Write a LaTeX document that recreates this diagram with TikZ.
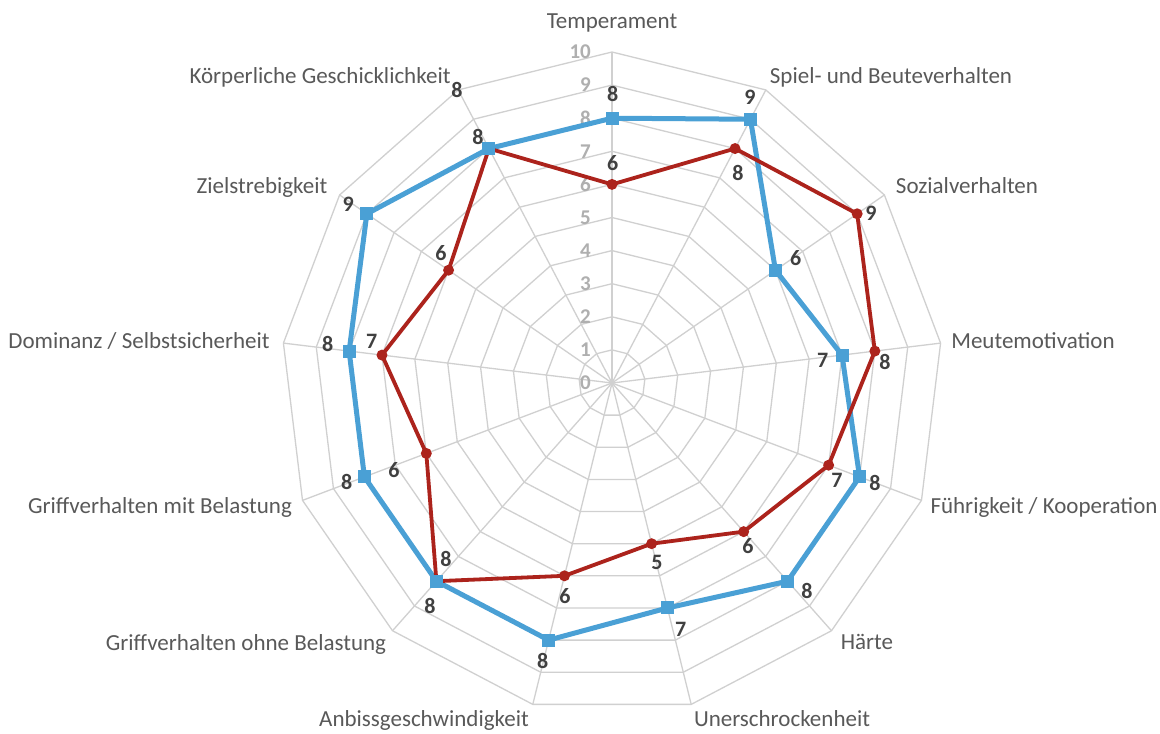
\documentclass[tikz,border=0pt]{standalone}
\usepackage{fontspec}
\setmainfont{Carlito}
\definecolor{gridc}{RGB}{208,208,208}
\definecolor{bluec}{RGB}{74,160,213}
\definecolor{redc}{RGB}{172,35,28}
\definecolor{axtxt}{RGB}{89,89,89}
\definecolor{valtxt}{RGB}{64,64,64}
\definecolor{ticktxt}{RGB}{175,175,175}
\begin{document}
\begin{tikzpicture}[x=1pt,y=-1pt,
 gridline/.style={draw=gridc,line width=1.3pt},
 axlabel/.style={anchor=base,font=\fontsize{23}{23}\selectfont,text=axtxt,inner sep=0pt},
 vallabel/.style={font=\fontsize{22}{22}\selectfont\bfseries,text=valtxt,inner sep=0pt},
 ticklabel/.style={anchor=east,font=\fontsize{21}{21}\selectfont\bfseries,text=ticktxt,inner sep=0pt},
 blueline/.style={draw=bluec,line width=5pt,line join=round},
 redline/.style={draw=redc,line width=3.8pt,line join=round},
 bluemark/.style={fill=bluec,rectangle,minimum size=13pt,inner sep=0pt},
 redmark/.style={fill=redc,circle,minimum size=11pt,inner sep=0pt}]

\useasboundingbox (0,0) rectangle (1160,734);
\fill[white] (0,0) rectangle (1160,734);

\coordinate (O) at (612,383);
% spokes
\foreach \k in {0,...,12} {
  \coordinate (S\k) at ({612+331*sin(\k*360/13)},{383-331*cos(\k*360/13)});
  \draw[gridline] (O) -- (S\k);
}
% rings
\foreach \r in {1,...,10} {
  \draw[gridline] (612,{383-33.1*\r})
    \foreach \k in {1,...,12} { -- ({612+33.1*\r*sin(\k*360/13)},{383-33.1*\r*cos(\k*360/13)}) } -- cycle;
}
% tick labels
\foreach \r in {0,...,10} {
  \node[ticklabel] (t\r) at (591,{383-33.1*\r}) {\r};
}

% data points
\foreach \v [count=\i from 0] in {8,9,6,7,8,8,7,8,8,8,8,9,8} {
  \coordinate (B\i) at ({612+33.1*\v*sin(\i*360/13)},{383-33.1*\v*cos(\i*360/13)});
}
\foreach \v [count=\i from 0] in {6,8,9,8,7,6,5,6,8,6,7,6,8} {
  \coordinate (R\i) at ({612+33.1*\v*sin(\i*360/13)},{383-33.1*\v*cos(\i*360/13)});
}

\draw[blueline] (B0) -- (B1) -- (B2) -- (B3) -- (B4) -- (B5) -- (B6) -- (B7) -- (B8) -- (B9) -- (B10) -- (B11) -- (B12) -- cycle;
\draw[redline] (R0) -- (R1) -- (R2) -- (R3) -- (R4) -- (R5) -- (R6) -- (R7) -- (R8) -- (R9) -- (R10) -- (R11) -- (R12) -- cycle;

\foreach \i in {0,...,12} { \node[redmark] (rm\i) at (R\i) {}; }
\foreach \i in {0,...,12} { \node[bluemark] (bm\i) at (B\i) {}; }

% blue value labels
\node[vallabel] (bl0) at (612.7,94) {8};
\node[vallabel] (bl1) at (750,97) {9};
\node[vallabel] (bl2) at (795.7,258) {6};
\node[vallabel] (bl3) at (822.7,360) {7};
\node[vallabel] (bl4) at (875,482.7) {8};
\node[vallabel] (bl5) at (807,591) {8};
\node[vallabel] (bl6) at (680.7,629) {7};
\node[vallabel] (bl7) at (542.7,660.7) {8};
\node[vallabel] (bl8) at (430,606) {8};
\node[vallabel] (bl9) at (346.7,481.7) {8};
\node[vallabel] (bl10) at (327.7,344) {8};
\node[vallabel] (bl11) at (348.3,204) {9};
\node[vallabel] (bl12) at (478,137) {8};
% red value labels
\node[vallabel] (rl0) at (612.7,163) {6};
\node[vallabel] (rl1) at (738,173) {8};
\node[vallabel] (rl2) at (871,213.3) {9};
\node[vallabel] (rl3) at (885,362) {8};
\node[vallabel] (rl4) at (837,480) {7};
\node[vallabel] (rl5) at (748,546) {6};
\node[vallabel] (rl6) at (657,562) {5};
\node[vallabel] (rl7) at (565,596) {6};
\node[vallabel] (rl8) at (446,559) {8};
\node[vallabel] (rl9) at (394,470) {6};
\node[vallabel] (rl10) at (371.7,341.7) {7};
\node[vallabel] (rl11) at (441,253) {6};
\node[vallabel] (rl12) at (457,90) {8};

% axis labels
\node[axlabel] (a0) at (612,28) {Temperament};
\node[axlabel] (a1) at (891,83) {Spiel- und Beuteverhalten};
\node[axlabel] (a2) at (967,193) {Sozialverhalten};
\node[axlabel] (a3) at (1033,348) {Meutemotivation};
\node[axlabel] (a4) at (1044,513) {Führigkeit / Kooperation};
\node[axlabel] (a5) at (867,649) {Härte};
\node[axlabel] (a6) at (782,726) {Unerschrockenheit};
\node[axlabel] (a7) at (424,726) {Anbissgeschwindigkeit};
\node[axlabel] (a8) at (246,650) {Griffverhalten ohne Belastung};
\node[axlabel] (a9) at (160,513) {Griffverhalten mit Belastung};
\node[axlabel] (a10) at (139,348) {Dominanz / Selbstsicherheit};
\node[axlabel] (a11) at (262,193) {Zielstrebigkeit};
\node[axlabel] (a12) at (320,83) {Körperliche Geschicklichkeit};
\end{tikzpicture}
\end{document}
